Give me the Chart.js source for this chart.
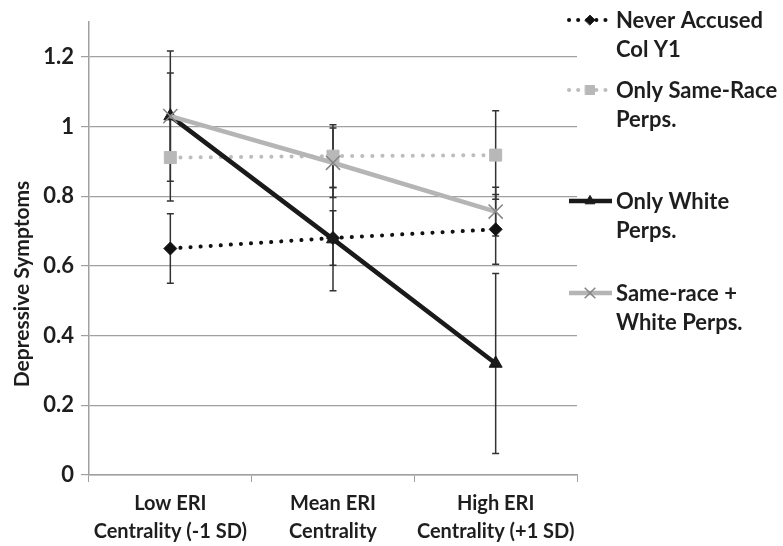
<!DOCTYPE html>
<html>
<head>
<meta charset="utf-8">
<script src="https://cdn.jsdelivr.net/npm/chart.js@4"></script>
<style>
  html, body { margin: 0; padding: 0; background: #fff; }
  #wrap { width: 783px; height: 546px; position: relative; }
</style>
</head>
<body>
<div id="wrap"><canvas id="chart" width="783" height="546"></canvas></div>
<script>
// Values
const categories = [['Low ERI', 'Centrality (-1 SD)'], ['Mean ERI', 'Centrality'], ['High ERI', 'Centrality (+1 SD)']];
const seriesNames = [['Never Accused', 'Col Y1'], ['Only Same-Race', 'Perps.'], ['Only White', 'Perps.'], ['Same-race +', 'White Perps.']];
const neverAccused = [0.65, 0.68, 0.705];
const neverAccusedErr = [0.10, 0.078, 0.10];
const sameRace = [0.911, 0.915, 0.918];
const sameRaceErr = [0.125, 0.09, 0.127];
const onlyWhite = [1.03, 0.677, 0.32];
const onlyWhiteErr = [0.187, 0.148, 0.258];
const bothPerps = [1.03, 0.896, 0.756];
const bothPerpsErr = [0.124, 0.10, 0.07];
const yTicks = [0, 0.2, 0.4, 0.6, 0.8, 1, 1.2];
const yTitle = 'Depressive Symptoms';

const FONT = 'Lato, "Liberation Sans", sans-serif';
const INK = '#1e1e1e';

// draw vertical error bars under the lines
const errorBars = {
    id: 'errorBars',
    beforeDatasetsDraw(chart) {
        const ctx = chart.ctx;
        const yScale = chart.scales.y;
        ctx.save();
        ctx.strokeStyle = '#333';
        ctx.lineWidth = 1.5;
        chart.data.datasets.forEach((ds, i) => {
            const meta = chart.getDatasetMeta(i);
            meta.data.forEach((pt, j) => {
                const e = ds.errors[j];
                const top = yScale.getPixelForValue(ds.data[j] + e);
                const bot = yScale.getPixelForValue(ds.data[j] - e);
                ctx.beginPath();
                ctx.moveTo(pt.x, top); ctx.lineTo(pt.x, bot);
                ctx.moveTo(pt.x - 3.5, top); ctx.lineTo(pt.x + 3.5, top);
                ctx.moveTo(pt.x - 3.5, bot); ctx.lineTo(pt.x + 3.5, bot);
                ctx.stroke();
            });
        });
        ctx.restore();
    }
};

// legend on the right with two-line labels, plus the y title (sits a bit low, like Excel)
const sideLegend = {
    id: 'sideLegend',
    afterDraw(chart) {
        const ctx = chart.ctx;
        const rowY = [20, 90, 201, 293];
        ctx.save();
        chart.data.datasets.forEach((ds, i) => {
            const y = rowY[i];
            ctx.strokeStyle = ds.borderColor;
            ctx.lineWidth = ds.borderWidth;
            ctx.lineCap = ds.borderDash.length ? 'round' : 'butt';
            ctx.setLineDash(ds.borderDash.length ? [0.1, 9] : []);
            ctx.beginPath();
            ctx.moveTo(569, y); ctx.lineTo(612, y);
            ctx.stroke();
            ctx.setLineDash([]);
            ctx.fillStyle = ds.pointBackgroundColor;
            ctx.strokeStyle = ds.pointBorderColor;
            ctx.lineWidth = ds.pointBorderWidth;
            Chart.helpers.drawPoint(ctx, {
                pointStyle: ds.pointStyle,
                radius: ds.pointRadius * 0.75,
                rotation: 0,
                borderWidth: ds.pointBorderWidth
            }, 590, y);
            ctx.fillStyle = INK;
            ctx.font = 'bold 22px ' + FONT;
            ctx.textBaseline = 'middle';
            ctx.textAlign = 'left';
            ds.legendText.forEach((t, k) => ctx.fillText(t, 616, y + 1 + k * 29));
        });
        ctx.translate(22, 284);
        ctx.rotate(-Math.PI / 2);
        ctx.font = 'bold 21px ' + FONT;
        ctx.textAlign = 'center';
        ctx.fillText(yTitle, 0, 0);
        ctx.restore();
    }
};

new Chart(document.getElementById('chart'), {
    type: 'line',
    data: {
        labels: categories,
        datasets: [
            {
                label: 'Never Accused Col Y1', legendText: seriesNames[0], data: neverAccused, errors: neverAccusedErr,
                borderColor: '#111', borderWidth: 4, borderDash: [0.1, 10], borderCapStyle: 'round',
                pointStyle: 'rectRot', pointRadius: 6.5, pointBackgroundColor: '#111', pointBorderColor: '#111', pointBorderWidth: 1,
                order: 4
            },
            {
                label: 'Only Same-Race Perps.', legendText: seriesNames[1], data: sameRace, errors: sameRaceErr,
                borderColor: '#bdbdbd', borderWidth: 4, borderDash: [0.1, 10], borderCapStyle: 'round',
                pointStyle: 'rect', pointRadius: 8.5, pointBackgroundColor: '#b8b8b8', pointBorderColor: '#b8b8b8', pointBorderWidth: 1,
                order: 3
            },
            {
                label: 'Only White Perps.', legendText: seriesNames[2], data: onlyWhite, errors: onlyWhiteErr,
                borderColor: '#1a1a1a', borderWidth: 4.5, borderDash: [],
                pointStyle: 'triangle', pointRadius: 7.5, pointBackgroundColor: '#1a1a1a', pointBorderColor: '#1a1a1a', pointBorderWidth: 1,
                order: 2
            },
            {
                label: 'Same-race + White Perps.', legendText: seriesNames[3], data: bothPerps, errors: bothPerpsErr,
                borderColor: '#b5b5b5', borderWidth: 4.5, borderDash: [],
                pointStyle: 'crossRot', pointRadius: 10, pointBackgroundColor: '#888', pointBorderColor: '#858585', pointBorderWidth: 1.5,
                order: 1
            }
        ]
    },
    options: {
        responsive: false,
        animation: false,
        layout: { padding: { left: 0, right: 206, top: 22, bottom: 0 } },
        plugins: { legend: { display: false }, tooltip: { enabled: false } },
        scales: {
            x: {
                offset: true,
                grid: { offset: true, drawOnChartArea: false, drawTicks: true, tickLength: 7, color: '#a0a0a0' },
                border: { color: '#a0a0a0', width: 1.5 },
                ticks: { color: INK, font: { family: FONT, size: 20, weight: 'bold', lineHeight: 1.4 }, padding: 8, maxRotation: 0, autoSkip: false },
                afterFit(scale) { scale.height = 71; }
            },
            y: {
                min: 0,
                max: 1.3,
                afterBuildTicks(axis) { axis.ticks = yTicks.map(v => ({ value: v })); },
                grid: { color: '#a0a0a0', lineWidth: 1.2, drawTicks: true, tickLength: 8 },
                border: { color: '#a0a0a0', width: 1.5 },
                ticks: { color: INK, font: { family: FONT, size: 22, weight: 'bold' }, padding: 7,
                         callback: v => String(+v.toFixed(1)) },
                afterFit(scale) { scale.width = 89; }
            }
        }
    },
    plugins: [errorBars, sideLegend]
});
</script>
</body>
</html>
